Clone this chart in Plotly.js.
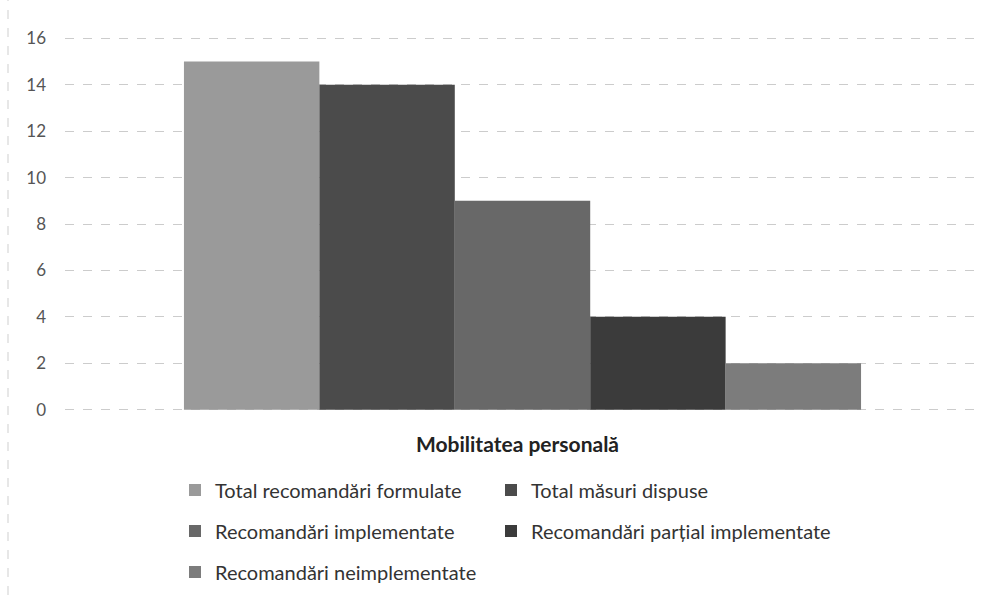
<!DOCTYPE html>
<html>
<head>
<meta charset="utf-8">
<script src="https://cdn.plot.ly/plotly-3.0.1.min.js"></script>
<style>html,body{margin:0;padding:0;background:#fff;}#chart{width:997px;height:595px;}</style>
</head>
<body>
<div id="chart"></div>
<script>
const categories = ["Mobilitatea personală"];
const seriesNames = [
  "Total recomandări formulate",
  "Total măsuri dispuse",
  "Recomandări implementate",
  "Recomandări parțial implementate",
  "Recomandări neimplementate"
];
const seriesValues = [15, 14, 9, 4, 2];
const seriesColors = ["#9a9a9a", "#4b4b4b", "#686868", "#3b3b3b", "#7c7c7c"];
const legendIds = ["legend", "legend2", "legend3", "legend4", "legend5"];
const yTicks = [0, 2, 4, 6, 8, 10, 12, 14, 16];

const traces = seriesNames.map((name, i) => ({
  type: "bar",
  name: name,
  x: categories,
  y: [seriesValues[i]],
  marker: {color: seriesColors[i], line: {width: 0}},
  legend: legendIds[i],
  hoverinfo: "name+y"
}));

const W = 997, H = 595;
const ML = 65, MT = 36, PW = 915, PH = 376;
// legend entry anchor positions (pixels): column x, row y
const colX = [175, 491];
const rowY = [490, 531, 572];
const legendCommon = {
  orientation: "h",
  xref: "container", yref: "container",
  xanchor: "left", yanchor: "middle",
  font: {family: "Lato, 'Open Sans', sans-serif", size: 20, color: "#333"},
  bgcolor: "rgba(0,0,0,0)", borderwidth: 0,
  itemclick: false, itemdoubleclick: false
};
function legendAt(i) {
  const col = i % 2, row = Math.floor(i / 2);
  return Object.assign({}, legendCommon, {x: colX[col] / W, y: 1 - rowY[row] / H});
}

const layout = {
  width: W, height: H,
  margin: {l: ML, r: W - ML - PW, t: MT, b: H - MT - PH},
  paper_bgcolor: "#ffffff",
  plot_bgcolor: "#ffffff",
  barmode: "group",
  bargap: 0.26,
  bargroupgap: 0,
  showlegend: true,
  font: {family: "Lato, 'Open Sans', sans-serif", color: "#555"},
  xaxis: {
    type: "category",
    tickfont: {family: "Lato, 'Open Sans', sans-serif", size: 21, color: "#222", weight: "bold"},
    ticks: "", showline: false, showgrid: false, zeroline: false,
    ticklabelstandoff: 18,
    ticklabelshift: -5
  },
  yaxis: {
    range: [-0.1, 16.1],
    tickvals: yTicks,
    ticktext: yTicks.map(String),
    tickfont: {family: "Lato, 'Open Sans', sans-serif", size: 17, color: "#555"},
    showgrid: true, gridcolor: "#cccccc", griddash: "dash", gridwidth: 1,
    zeroline: false, showline: false, ticks: "",
    ticklabelstandoff: 18
  },
  legend: legendAt(0),
  legend2: legendAt(1),
  legend3: legendAt(2),
  legend4: legendAt(3),
  legend5: legendAt(4),
  shapes: [{
    type: "line", xref: "paper", yref: "paper",
    x0: (8 - ML) / PW, x1: (8 - ML) / PW, y0: -(H - MT - PH) / PH, y1: 1 + MT / PH,
    line: {color: "#cfcfcf", width: 1, dash: "dash"}
  }]
};

Plotly.newPlot("chart", traces, layout, {displayModeBar: false, staticPlot: true});
</script>
</body>
</html>
